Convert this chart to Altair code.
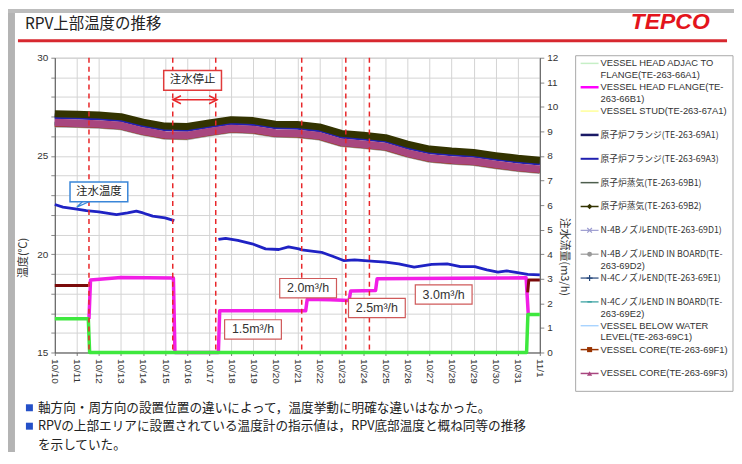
import altair as alt
import pandas as pd

# ---------------- data ----------------
DAYS = list(range(23))
TICK_LABELS = ["10/10", "10/11", "10/12", "10/13", "10/14", "10/15", "10/16", "10/17",
               "10/18", "10/19", "10/20", "10/21", "10/22", "10/23", "10/24", "10/25",
               "10/26", "10/27", "10/28", "10/29", "10/30", "10/31", "11/1"]

SERIES_KEYS = ["66A1", "66B1", "67A1", "69A1", "69A3", "69B1", "69B2",
               "69D1", "69D2", "69E1", "69E2", "69C1", "69F1", "69F3"]
SERIES_LABELS = [
    ["VESSEL HEAD ADJAC TO", "FLANGE(TE-263-66A1)"],
    ["VESSEL HEAD FLANGE(TE-", "263-66B1)"],
    ["VESSEL STUD(TE-263-67A1)"],
    ["原子炉フランジ(TE-263-69A1)"],
    ["原子炉フランジ(TE-263-69A3)"],
    ["原子炉蒸気(TE-263-69B1)"],
    ["原子炉蒸気(TE-263-69B2)"],
    ["N-4BノズルEND(TE-263-69D1)"],
    ["N-4BノズルEND IN BOARD(TE-", "263-69D2)"],
    ["N-4CノズルEND(TE-263-69E1)"],
    ["N-4CノズルEND IN BOARD(TE-", "263-69E2)"],
    ["VESSEL BELOW WATER", "LEVEL(TE-263-69C1)"],
    ["VESSEL CORE(TE-263-69F1)"],
    ["VESSEL CORE(TE-263-69F3)"],
]

T_66A1 = [26.71, 26.68, 26.64, 26.56, 26.28, 26.08, 26.06, 26.24, 26.41, 26.36, 26.18, 26.16, 26.04, 25.71, 25.61, 25.49, 25.16, 24.91, 24.81, 24.74, 24.58, 24.44, 24.33]
T_66B1 = [26.75, 26.72, 26.68, 26.60, 26.32, 26.12, 26.10, 26.28, 26.45, 26.40, 26.22, 26.20, 26.08, 25.75, 25.65, 25.53, 25.20, 24.95, 24.85, 24.78, 24.62, 24.48, 24.37]
T_67A1 = [26.73, 26.70, 26.66, 26.58, 26.30, 26.10, 26.08, 26.26, 26.43, 26.38, 26.20, 26.18, 26.06, 25.73, 25.63, 25.51, 25.18, 24.93, 24.83, 24.76, 24.60, 24.46, 24.35]
T_69A1 = [27.02, 26.99, 26.95, 26.87, 26.60, 26.39, 26.37, 26.55, 26.72, 26.67, 26.50, 26.47, 26.35, 26.03, 25.92, 25.80, 25.48, 25.23, 25.12, 25.05, 24.90, 24.75, 24.66]
T_69A3 = [26.96, 26.94, 26.90, 26.82, 26.54, 26.35, 26.32, 26.50, 26.66, 26.62, 26.45, 26.42, 26.30, 25.97, 25.88, 25.76, 25.42, 25.18, 25.08, 25.00, 24.84, 24.71, 24.60]
T_69B1 = [27.09, 27.06, 27.03, 26.94, 26.67, 26.46, 26.45, 26.62, 26.79, 26.74, 26.57, 26.54, 26.42, 26.10, 25.99, 25.88, 25.55, 25.30, 25.19, 25.12, 24.97, 24.82, 24.73]
T_69B2 = [27.15, 27.12, 27.08, 27.00, 26.72, 26.52, 26.50, 26.68, 26.85, 26.80, 26.62, 26.60, 26.48, 26.15, 26.05, 25.93, 25.60, 25.35, 25.25, 25.18, 25.02, 24.88, 24.78]
T_69D1 = [26.68, 26.65, 26.61, 26.53, 26.25, 26.05, 26.03, 26.21, 26.38, 26.33, 26.15, 26.13, 26.01, 25.68, 25.58, 25.46, 25.13, 24.88, 24.78, 24.71, 24.55, 24.41, 24.30]
T_69D2 = [26.58, 26.55, 26.51, 26.43, 26.15, 25.95, 25.93, 26.11, 26.28, 26.23, 26.05, 26.03, 25.91, 25.58, 25.48, 25.36, 25.03, 24.78, 24.68, 24.61, 24.45, 24.31, 24.21]
T_69E1 = [26.66, 26.63, 26.59, 26.51, 26.23, 26.03, 26.01, 26.19, 26.36, 26.31, 26.13, 26.11, 25.99, 25.66, 25.56, 25.44, 25.11, 24.86, 24.76, 24.69, 24.53, 24.39, 24.28]
T_69E2 = [26.65, 26.62, 26.58, 26.50, 26.22, 26.02, 26.00, 26.18, 26.35, 26.30, 26.12, 26.10, 25.98, 25.65, 25.55, 25.43, 25.10, 24.85, 24.75, 24.68, 24.52, 24.38, 24.27]
T_69C1 = [26.67, 26.64, 26.60, 26.52, 26.24, 26.04, 26.02, 26.20, 26.37, 26.32, 26.14, 26.12, 26.00, 25.67, 25.57, 25.45, 25.12, 24.87, 24.77, 24.70, 24.54, 24.40, 24.29]
T_69F1 = [26.62, 26.59, 26.55, 26.47, 26.19, 25.99, 25.97, 26.15, 26.32, 26.27, 26.09, 26.07, 25.95, 25.62, 25.52, 25.40, 25.07, 24.82, 24.72, 24.65, 24.49, 24.35, 24.25]
T_69F3 = [26.70, 26.67, 26.63, 26.55, 26.27, 26.07, 26.05, 26.23, 26.40, 26.35, 26.17, 26.15, 26.03, 25.70, 25.60, 25.48, 25.15, 24.90, 24.80, 24.73, 24.57, 24.43, 24.32]

# inlet water temperature (注水温度), two segments
INLET1_DAYS = [0, 0.37, 1.0, 1.43, 2.0, 2.8, 3.3, 3.7, 4.0, 4.44, 5.0, 5.42]
INLET1_TEMP = [22.53, 22.40, 22.30, 22.22, 22.15, 22.02, 22.10, 22.19, 22.10, 21.94, 21.85, 21.71]
INLET2_DAYS = [7.42, 7.75, 8.3, 8.95, 9.56, 10.16, 10.6, 11.07, 11.2, 12.1, 12.6, 13.1, 13.6, 14.5,
               15.0, 15.6, 16.3, 17.1, 17.8, 18.4, 19.05, 19.6, 20.1, 20.5, 20.85, 21.45, 22.0]
INLET2_TEMP = [20.75, 20.81, 20.70, 20.53, 20.27, 20.24, 20.37, 20.27, 20.22, 20.10, 19.90, 19.68, 19.71, 19.64,
               19.60, 19.51, 19.34, 19.48, 19.51, 19.37, 19.37, 19.20, 19.09, 19.15, 19.09, 18.97, 18.95]

# injection flow (注水流量, right axis)
FLOW_DAYS = [1.55, 1.62, 3.0, 5.38, 5.45, 7.42, 7.48, 11.38, 11.45, 12.5, 13.35, 13.42,
             14.55, 14.62, 18.0, 21.38, 21.48]
FLOW_VALUES = [1.37, 2.95, 3.05, 3.03, 0.0, 0.0, 1.70, 1.70, 2.17, 2.15, 2.12, 2.50,
               2.52, 3.00, 3.02, 3.04, 1.50]
GREEN_DAYS = [0, 1.52, 1.58, 21.40, 21.46, 22]
GREEN_VALUES = [1.37, 1.37, 0.0, 0.0, 1.55, 1.55]
BROWN1_DAYS = [0, 1.52]
BROWN1_VALUES = [2.73, 2.73]
BROWN2_DAYS = [21.45, 21.50, 22]
BROWN2_VALUES = [2.45, 2.95, 2.95]

EVENT_DAYS = [1.55, 5.35, 7.3, 11.2, 13.2, 14.27]

TEMP_NOTES = ["注水停止", "注水温度"]
TEMP_NOTE_DAYS = [6.25, 2.0]
TEMP_NOTE_VALUES = [28.85, 23.17]
STOP_ARROW_DAYS = [5.36, 7.36]
STOP_ARROW_VALUE = 27.86
TAIL_DAYS = [1.25, 1.0, 1.55]
TAIL_VALUES = [22.67, 22.40, 22.67]

FLOW_NOTES = ["1.5m³/h", "2.0m³/h", "2.5m³/h", "3.0m³/h"]
FLOW_NOTE_DAYS = [8.99, 11.49, 14.61, 17.64]
FLOW_NOTE_VALUES = [0.94, 2.62, 1.81, 2.36]

TITLE = "RPV上部温度の推移"
FOOTER = ["軸方向・周方向の設置位置の違いによって，温度挙動に明確な違いはなかった。",
          "RPVの上部エリアに設置されている温度計の指示値は，RPV底部温度と概ね同等の推移",
          "を示していた。"]

# ---------------- styles ----------------
FONT_JP = "Noto Sans CJK JP"
FONT_NUM = "Liberation Sans"
SERIES_COLORS = ["#c6efc6", "#ff00ff", "#ffff99", "#1a1a66", "#2020b0", "#4d5e4d", "#333300",
                 "#9c9cd0", "#999999", "#23457a", "#2e9c9c", "#99ccff", "#993300", "#a8467f"]
SERIES_WIDTHS = [3, 3, 3, 4, 3.5, 4, 7, 3, 5, 3, 3, 3, 5, 7.5]
XPATH = "M-1,-1L1,1M-1,1L1,-1"
PLUS = "M-1,0H1M0,-1V1"
DASH = "M-1,0H1"
LEGEND_MARKERS = [None, None, None, None, None, None, ("diamond", True, 30),
                  (XPATH, False, 22), ("circle", True, 24), (PLUS, False, 36), (DASH, False, 20),
                  None, ("square", True, 26), ("triangle-up", True, 28)]
LEGEND_LINE_W = [1.5, 2.5, 1.5, 2.5, 2, 1.5, 1.5, 1.2, 1.2, 1.2, 1.2, 1.2, 1.5, 1.5]
BOX_SHAPE = "M-1,-0.34H1V0.34H-1Z"

PAD_L, PAD_T = 47, 49
W, H = 487, 296


def cx(px):
    return px - (PAD_L + 8)


def cy(py):
    return py - (PAD_T + 8)


def is_latin(s):
    return all(ord(ch) < 128 for ch in s)


XS = alt.Scale(domain=[0, 22], nice=False, zero=False)
TS = alt.Scale(domain=[15, 30], nice=False, zero=False)
FS = alt.Scale(domain=[0, 12], nice=False, zero=False)

label_array = "[" + ",".join("'" + s + "'" for s in TICK_LABELS) + "]"
X_AXIS = alt.Axis(values=DAYS, labelExpr=label_array + "[datum.value]", labelAngle=90,
                  labelFont=FONT_NUM, labelFontSize=10, labelColor="#333", labelPadding=3,
                  tickSize=3, tickColor="#777", domainColor="#555", grid=True,
                  gridColor="#d4d4d4", title=None)
TEMP_AXIS = alt.Axis(values=list(range(15, 31)),
                     labelExpr="datum.value % 5 == 0 ? datum.label : ''",
                     labelFont=FONT_NUM, labelFontSize=10, labelColor="#333", labelPadding=3,
                     tickSize=4, tickColor="#888", domainColor="#555", grid=True,
                     gridColor="#d4d4d4", title=None)
FLOW_AXIS = alt.Axis(orient="right", values=list(range(0, 13)), labelFont=FONT_NUM,
                     labelFontSize=10, labelColor="#333", labelPadding=3, tickSize=4,
                     tickColor="#888", domainColor="#555", grid=False, title=None)


def X(field="day"):
    return alt.X(f"{field}:Q", scale=XS, axis=X_AXIS, title=None)


ONE = pd.DataFrame({"k": [0]})

# ---------- temperature group ----------
TEMPS = dict(zip(SERIES_KEYS, [T_66A1, T_66B1, T_67A1, T_69A1, T_69A3, T_69B1, T_69B2,
                               T_69D1, T_69D2, T_69E1, T_69E2, T_69C1, T_69F1, T_69F3]))
temp_layers = []
for key, color, w in zip(SERIES_KEYS, SERIES_COLORS, SERIES_WIDTHS):
    df = pd.DataFrame({"day": DAYS, "t": TEMPS[key]})
    temp_layers.append(
        alt.Chart(df).mark_line(color=color, strokeWidth=w, strokeJoin="round")
        .encode(x=X(), y=alt.Y("t:Q", scale=TS, axis=TEMP_AXIS, title=None)))
for d, t in [(INLET1_DAYS, INLET1_TEMP), (INLET2_DAYS, INLET2_TEMP)]:
    df = pd.DataFrame({"day": d, "t": t})
    temp_layers.append(
        alt.Chart(df).mark_line(color="#1f22c4", strokeWidth=2.8, strokeJoin="round")
        .encode(x=X(), y=alt.Y("t:Q", scale=TS, axis=TEMP_AXIS, title=None)))
temp_group = alt.layer(*temp_layers)

# ---------- flow group ----------
flow_layers = []
for d, v, color, w in [(FLOW_DAYS, FLOW_VALUES, "#f21ee6", 3.5),
                       (BROWN1_DAYS, BROWN1_VALUES, "#7a0a0a", 3),
                       (BROWN2_DAYS, BROWN2_VALUES, "#7a0a0a", 3),
                       (GREEN_DAYS, GREEN_VALUES, "#3ee83e", 3.5)]:
    df = pd.DataFrame({"day": d, "f": v})
    flow_layers.append(
        alt.Chart(df).mark_line(color=color, strokeWidth=w, strokeJoin="round")
        .encode(x=X(), y=alt.Y("f:Q", scale=FS, axis=FLOW_AXIS, title=None)))
flow_group = alt.layer(*flow_layers)

# ---------- annotations in temperature coords ----------
ev = pd.DataFrame({"day": EVENT_DAYS})
dashes = alt.Chart(ev).mark_rule(color="#e8272a", strokeWidth=1.5, strokeDash=[5, 4]).encode(x=X())

arrow_df = pd.DataFrame({"day": [STOP_ARROW_DAYS[0]], "day2": [STOP_ARROW_DAYS[1]],
                         "t": [STOP_ARROW_VALUE]})
arrow = alt.Chart(arrow_df).mark_rule(color="#e8272a", strokeWidth=1.5).encode(
    x=X(), x2="day2:Q", y=alt.Y("t:Q", scale=TS, axis=None))
head_l = alt.Chart(pd.DataFrame({"day": [STOP_ARROW_DAYS[0]], "t": [STOP_ARROW_VALUE]})).mark_point(
    shape="M2,-1L0,0L2,1", size=64, filled=False, color="#e8272a", strokeWidth=1.5, opacity=1
).encode(x=X(), y=alt.Y("t:Q", scale=TS, axis=None))
head_r = alt.Chart(pd.DataFrame({"day": [STOP_ARROW_DAYS[1]], "t": [STOP_ARROW_VALUE]})).mark_point(
    shape="M-2,-1L0,0L-2,1", size=64, filled=False, color="#e8272a", strokeWidth=1.5, opacity=1
).encode(x=X(), y=alt.Y("t:Q", scale=TS, axis=None))

tail = alt.Chart(pd.DataFrame({"day": TAIL_DAYS, "t": TAIL_VALUES, "o": [0, 1, 2]})).mark_line(
    color="#3a86d8", strokeWidth=1.3).encode(x=X(), y=alt.Y("t:Q", scale=TS, axis=None), order="o:Q")

tn = pd.DataFrame({"day": TEMP_NOTE_DAYS, "t": TEMP_NOTE_VALUES, "label": TEMP_NOTES,
                   "kind": ["stop", "inlet"]})
tbox = alt.Chart(tn).mark_point(shape=BOX_SHAPE, size=3364, filled=True, fill="white",
                                strokeWidth=1.5, opacity=1).encode(
    x=X(), y=alt.Y("t:Q", scale=TS, axis=None),
    stroke=alt.Stroke("kind:N", scale=alt.Scale(domain=["stop", "inlet"],
                                                range=["#e03a3a", "#3a86d8"]), legend=None))
ttext = alt.Chart(tn).mark_text(font=FONT_JP, fontSize=11.5, color="#222").encode(
    x=X(), y=alt.Y("t:Q", scale=TS, axis=None), text="label:N")
annot_t_group = alt.layer(dashes, arrow, head_l, head_r, tail, tbox, ttext)

# ---------- annotations in flow coords ----------
fn = pd.DataFrame({"day": FLOW_NOTE_DAYS, "f": FLOW_NOTE_VALUES, "label": FLOW_NOTES})
fbox = alt.Chart(fn).mark_point(shape=BOX_SHAPE, size=3249, filled=True, fill="white",
                                stroke="#cf5a5a", strokeWidth=1.2, opacity=1).encode(
    x=X(), y=alt.Y("f:Q", scale=FS, axis=None))
ftext = alt.Chart(fn).mark_text(font=FONT_NUM, fontSize=12.5, color="#333").encode(
    x=X(), y=alt.Y("f:Q", scale=FS, axis=None), text="label:N")
annot_f_group = alt.layer(fbox, ftext)

# ---------- decorations (page layout) ----------
decor = []
decor.append(alt.Chart(ONE).mark_rect(color="#b4b4b4").encode(
    x=alt.value(cx(8)), x2=alt.value(cx(15)), y=alt.value(cy(8)), y2=alt.value(cy(456))))
decor.append(alt.Chart(ONE).mark_rect(color="#bdbdbd").encode(
    x=alt.value(cx(8)), x2=alt.value(cx(737)), y=alt.value(cy(8)), y2=alt.value(cy(12))))
decor.append(alt.Chart(ONE).mark_text(text=TITLE, font=FONT_JP, fontSize=15.5, color="#222",
                                      align="left", baseline="middle").encode(
    x=alt.value(cx(25)), y=alt.value(cy(23))))
decor.append(alt.Chart(ONE).mark_rule(color="#d7282f", strokeWidth=3).encode(
    x=alt.value(cx(18)), x2=alt.value(cx(730)), y=alt.value(cy(40))))
decor.append(alt.Chart(ONE).mark_text(text="TEPCO", font=FONT_NUM, fontSize=23, fontWeight="bold",
                                      fontStyle="italic", color="#e3141c", align="center",
                                      baseline="middle").encode(
    x=alt.value(cx(673)), y=alt.value(cy(21))))
decor.append(alt.Chart(ONE).mark_text(text="温度(℃)", font=FONT_JP, fontSize=11, color="#333",
                                      angle=270, baseline="middle").encode(
    x=alt.value(cx(24)), y=alt.value(cy(258))))
decor.append(alt.Chart(ONE).mark_text(text="注水流量(m3/h)", font=FONT_JP, fontSize=11, color="#333",
                                      angle=90, baseline="middle").encode(
    x=alt.value(cx(566)), y=alt.value(cy(257))))

# legend
decor.append(alt.Chart(ONE).mark_rect(fill="white", stroke="#a8a8a8", strokeWidth=1).encode(
    x=alt.value(cx(578)), x2=alt.value(cx(736)), y=alt.value(cy(55)), y2=alt.value(cy(392))))
for i, (lines, color, marker, lw) in enumerate(zip(SERIES_LABELS, SERIES_COLORS, LEGEND_MARKERS,
                                                    LEGEND_LINE_W)):
    yy = 62.7 + i * 23.95
    decor.append(alt.Chart(ONE).mark_rule(color=color, strokeWidth=lw).encode(
        x=alt.value(cx(583)), x2=alt.value(cx(601)), y=alt.value(cy(yy))))
    if marker is not None:
        shape, filled, size = marker
        decor.append(alt.Chart(ONE).mark_point(shape=shape, filled=filled, size=size, color=color,
                                               opacity=1, strokeWidth=1.2).encode(
            x=alt.value(cx(592)), y=alt.value(cy(yy))))
    for k, line in enumerate(lines):
        latin = is_latin(line)
        decor.append(alt.Chart(ONE).mark_text(text=line, font=FONT_NUM if latin else FONT_JP,
                                              fontSize=9.4 if latin else 8.8,
                                              color="#333", align="left",
                                              baseline="middle").encode(
            x=alt.value(cx(603)), y=alt.value(cy(yy + k * 11.8))))

# footer
FOOT_Y = [408.5, 427, 445.5]
for yc in FOOT_Y[:2]:
    decor.append(alt.Chart(ONE).mark_rect(color="#2450c8").encode(
        x=alt.value(cx(26)), x2=alt.value(cx(33)), y=alt.value(cy(yc - 3.5)), y2=alt.value(cy(yc + 3.5))))
for txt, yc in zip(FOOTER, FOOT_Y):
    decor.append(alt.Chart(ONE).mark_text(text=txt, font=FONT_JP, fontSize=12.7, color="#222",
                                          align="left", baseline="middle").encode(
        x=alt.value(cx(38)), y=alt.value(cy(yc))))

chart = alt.layer(temp_group, flow_group, annot_t_group, annot_f_group, *decor).resolve_scale(
    y="independent"
).properties(
    width=W, height=H,
    autosize=alt.AutoSizeParams(type="none"),
    padding={"left": PAD_L, "top": PAD_T, "right": 729 - PAD_L - W, "bottom": 444 - PAD_T - H},
    background="white",
).configure_view(stroke="#c4c4c4")

chart.save("out.html", embed_options={"renderer": "svg", "actions": False})
